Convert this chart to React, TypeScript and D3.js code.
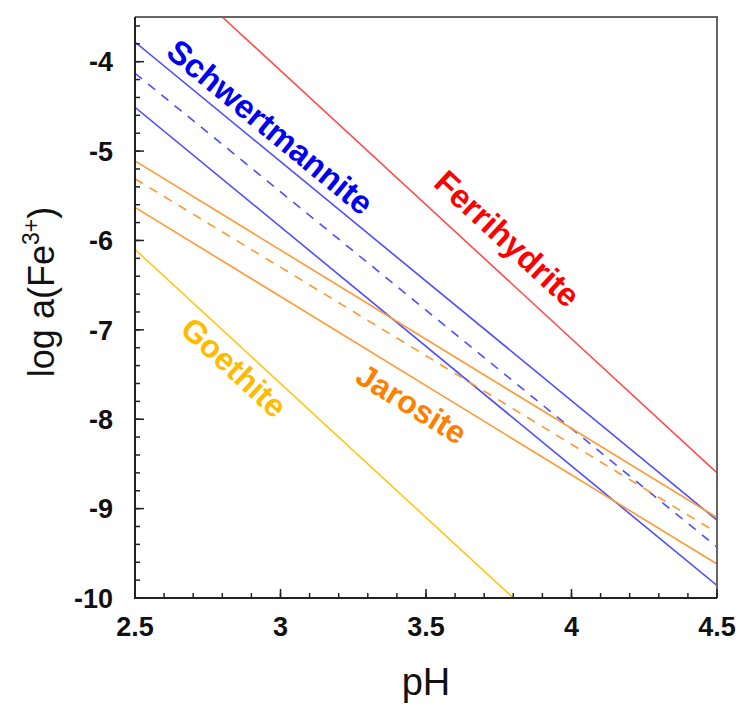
import React from "react";
import * as d3 from "d3";

const phDomain = [2.5, 4.5];
const logDomain = [-10, -3.5];
const xTickValues = [2.5, 3, 3.5, 4, 4.5];
const xTickLabels = ["2.5", "3", "3.5", "4", "4.5"];
const yTickValues = [-10, -9, -8, -7, -6, -5, -4];
const yTickLabels = ["-10", "-9", "-8", "-7", "-6", "-5", "-4"];

// line endpoints [pH, log a(Fe3+)]
const ferrihydritePH = [2.8, 4.5];
const ferrihydriteLog = [-3.5, -8.6];
const schwUpperPH = [2.5, 4.5];
const schwUpperLog = [-3.78, -9.13];
const schwMidPH = [2.5, 4.5];
const schwMidLog = [-4.13, -9.43];
const schwLowerPH = [2.5, 4.5];
const schwLowerLog = [-4.51, -9.86];
const jarUpperPH = [2.5, 4.5];
const jarUpperLog = [-5.11, -9.1];
const jarMidPH = [2.5, 4.5];
const jarMidLog = [-5.31, -9.27];
const jarLowerPH = [2.5, 4.5];
const jarLowerLog = [-5.63, -9.62];
const goethitePH = [2.5, 3.8];
const goethiteLog = [-6.1, -10.0];

const labelNames = ["Schwertmannite", "Ferrihydrite", "Jarosite", "Goethite"];
const labelPH = [2.965, 3.78, 3.45, 2.84];
const labelLog = [-4.73, -5.98, -7.83, -7.42];

const W = 740;
const H = 706;
const L = 135, R = 717, T = 17, B = 598;
const FONT = "'Liberation Sans', Arial, Helvetica, sans-serif";

export default function App() {
  const x = d3.scaleLinear().domain(phDomain).range([L, R]);
  const y = d3.scaleLinear().domain(logDomain).range([B, T]);
  const line = d3
    .line<[number, number]>()
    .x((d) => x(d[0]))
    .y((d) => y(d[1]));

  const series = [
    { ph: ferrihydritePH, lg: ferrihydriteLog, color: "#ff4d4d", dash: null },
    { ph: schwUpperPH, lg: schwUpperLog, color: "#4d4dff", dash: null },
    { ph: schwMidPH, lg: schwMidLog, color: "#4d4dff", dash: "9,8" },
    { ph: schwLowerPH, lg: schwLowerLog, color: "#4d4dff", dash: null },
    { ph: jarUpperPH, lg: jarUpperLog, color: "#ff9933", dash: null },
    { ph: jarMidPH, lg: jarMidLog, color: "#ff9933", dash: "9,8" },
    { ph: jarLowerPH, lg: jarLowerLog, color: "#ff9933", dash: null },
    { ph: goethitePH, lg: goethiteLog, color: "#ffc61a", dash: null },
  ];

  const angleOf = (ph: number[], lg: number[]) => {
    const dx = x(ph[1]) - x(ph[0]);
    const dy = y(lg[1]) - y(lg[0]);
    return (Math.atan2(dy, dx) * 180) / Math.PI;
  };
  const labelAngles = [
    angleOf(schwUpperPH, schwUpperLog),
    angleOf(ferrihydritePH, ferrihydriteLog),
    angleOf(jarUpperPH, jarUpperLog),
    angleOf(goethitePH, goethiteLog),
  ];
  const labelColors = ["#0000ee", "#ff0000", "#ff8000", "#ffbb00"];
  const labelSizes = [33, 33, 32, 32];

  const xMinor = d3.range(2.5, 4.5001, 0.1);
  const yMinor = d3.range(-10, -3.4999, 0.2);

  return (
    <svg
      width={W}
      height={H}
      style={{ position: "absolute", left: 0, top: 0, background: "#fff" }}
      fontFamily={FONT}
    >
      <defs>
        <clipPath id="plot">
          <rect x={L} y={T} width={R - L} height={B - T} />
        </clipPath>
      </defs>
      <g clipPath="url(#plot)">
        {series.map((s, i) => (
          <path
            key={i}
            d={line(s.ph.map((p, j) => [p, s.lg[j]] as [number, number])) || ""}
            fill="none"
            stroke={s.color}
            strokeWidth={1.6}
            strokeDasharray={s.dash || undefined}
          />
        ))}
      </g>
      {labelNames.map((n, i) => (
        <text
          key={n}
          x={x(labelPH[i])}
          y={y(labelLog[i])}
          transform={`rotate(${labelAngles[i]},${x(labelPH[i])},${y(labelLog[i])})`}
          textAnchor="middle"
          dominantBaseline="central"
          fontSize={labelSizes[i]}
          fontWeight="bold"
          fill={labelColors[i]}
        >
          {n}
        </text>
      ))}
      {/* frame */}
      <path d={`M${L},${T}H${R}V${B}`} fill="none" stroke="#666" strokeWidth={2} />
      <path d={`M${L},${T}V${B}H${R}`} fill="none" stroke="#222" strokeWidth={2} />
      {/* ticks */}
      {xMinor.map((v, i) => (
        <line key={"xm" + i} x1={x(v)} x2={x(v)} y1={B} y2={B - 5} stroke="#222" strokeWidth={1.5} />
      ))}
      {xTickValues.map((v, i) => (
        <line key={"xM" + i} x1={x(v)} x2={x(v)} y1={B} y2={B - 9} stroke="#222" strokeWidth={1.5} />
      ))}
      {yMinor.map((v, i) => (
        <line key={"ym" + i} x1={L} x2={L + 5} y1={y(v)} y2={y(v)} stroke="#222" strokeWidth={1.5} />
      ))}
      {yTickValues.map((v, i) => (
        <line key={"yM" + i} x1={L} x2={L + 9} y1={y(v)} y2={y(v)} stroke="#222" strokeWidth={1.5} />
      ))}
      {xTickValues.map((v, i) => (
        <text key={"xl" + i} x={x(v)} y={636} textAnchor="middle" fontSize={27} fontWeight="bold" fill="#111">
          {xTickLabels[i]}
        </text>
      ))}
      {yTickValues.map((v, i) => (
        <text key={"yl" + i} x={113} y={y(v)} dy="0.36em" textAnchor="end" fontSize={27} fontWeight="bold" fill="#111">
          {yTickLabels[i]}
        </text>
      ))}
      <text x={(L + R) / 2} y={695} textAnchor="middle" fontSize={38} fill="#111">
        pH
      </text>
      <text
        transform={`translate(54,292) rotate(-90)`}
        textAnchor="middle"
        fontSize={36}
        fill="#111"
      >
        log a(Fe
        <tspan fontSize={23} dy={-15}>3+</tspan>
        <tspan dy={15}>)</tspan>
      </text>
    </svg>
  );
}
